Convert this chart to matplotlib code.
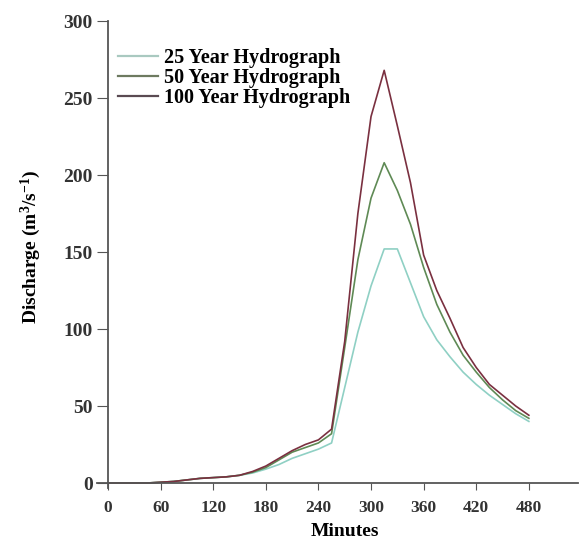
import matplotlib
matplotlib.use("Agg")
import matplotlib.pyplot as plt

plt.rcParams['font.family'] = ['Liberation Serif', 'DejaVu Serif']
plt.rcParams['font.weight'] = 'bold'
plt.rcParams['mathtext.fontset'] = 'custom'
plt.rcParams['mathtext.rm'] = 'Liberation Serif:bold'
plt.rcParams['mathtext.bf'] = 'Liberation Serif:bold'
plt.rcParams['mathtext.default'] = 'bf'

# time in minutes (15 min steps)
minutes = [0, 15, 30, 45, 60, 75, 90, 105, 120, 135, 150, 165, 180, 195, 210, 225,
           240, 255, 270, 285, 300, 315, 330, 345, 360, 375, 390, 405, 420, 435,
           450, 465, 480]

q25 = [0, 0, 0, 0, 0.5, 1, 2, 3, 3.5, 4, 5, 6.5, 9, 12, 16, 19,
       22, 26, 62, 98, 128, 152, 152, 130, 108, 93, 82, 72, 64, 57,
       51, 45, 40]
q50 = [0, 0, 0, 0, 0.5, 1, 2, 3, 3.5, 4, 5, 7, 10, 15, 20, 23,
       26, 32, 88, 145, 185, 208, 190, 168, 140, 116, 98, 83, 72, 62,
       54, 47, 42]
q100 = [0, 0, 0, 0, 0.5, 1, 2, 3, 3.5, 4, 5, 7.5, 11, 16, 21, 25,
        28, 35, 92, 175, 238, 268, 232, 195, 148, 125, 107, 88, 75, 64,
        57, 50, 44]

labels = ['25 Year Hydrograph', '50 Year Hydrograph', '100 Year Hydrograph']
colors = ['#8fd0c4', '#5f8a55', '#7a3040']
legend_colors = ['#a9c9c0', '#6d7a60', '#5a4a52']

fig = plt.figure(figsize=(5.8, 5.4), dpi=100)
ax = fig.add_axes([0.168, 0.097, 0.8285, 0.864])

for y, c in zip([q25, q50, q100], colors):
    ax.plot(minutes, y, color=c, lw=1.2)

ax.set_xlim(-12, 536)
ax.set_ylim(-3, 300)
ax.spines['left'].set_position(('data', 0))
ax.spines['bottom'].set_position(('data', 0))
ax.spines['top'].set_visible(False)
ax.spines['right'].set_visible(False)
for s in ['left', 'bottom']:
    ax.spines[s].set_color('#555555')
    ax.spines[s].set_linewidth(1.3)

ax.set_xticks(range(0, 481, 60))
ax.set_yticks(range(0, 301, 50))
ax.tick_params(axis='x', direction='out', length=5, color='#555555', labelsize=12.5, pad=7)
ax.tick_params(axis='y', direction='out', length=8, color='#555555', labelsize=14, pad=3)
for t in ax.get_xticklabels() + ax.get_yticklabels():
    t.set_fontweight('bold')
    t.set_color('#333333')

ax.set_xlabel('Minutes', fontsize=14, fontweight='bold', labelpad=0)
ax.xaxis.set_label_coords(0.515, -0.075)
ax.set_ylabel('Discharge (m$^{3}$/s$^{-1}$)', fontsize=14, fontweight='bold')
ax.yaxis.set_label_coords(-0.114, 0.516)

handles = [plt.Line2D([], [], color=c, lw=1.6) for c in legend_colors]
ax.legend(handles, labels, loc='upper left', bbox_to_anchor=(0.042, 0.942),
          frameon=False, fontsize=14.5, handlelength=2.0, handletextpad=0.3,
          labelspacing=0.0, borderpad=0, borderaxespad=0)

fig.savefig('out.png', dpi=100)
